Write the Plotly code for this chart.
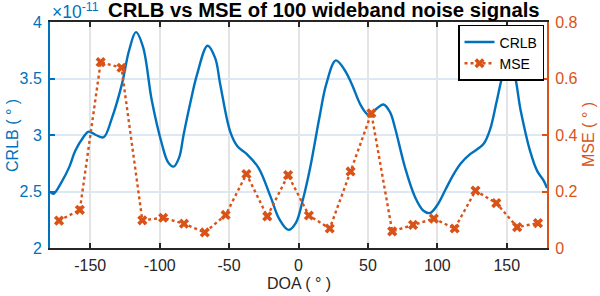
import plotly.graph_objects as go

# CRLB curve (units of 1e-11)
crlb_doa = [-179, -176.5, -170.4, -165, -160.8, -155, -151.2, -146, -140.4, -134.4,
            -127.2, -122, -117.1, -112, -105.6, -98.4, -94, -90, -86, -82.8,
            -78, -73.2, -65.5, -60, -56.4, -49.2, -44, -37.2, -28.8, -20,
            -14, -7.2, -2, 3, 8.4, 15, 20, 26.9, 33, 38.4,
            45, 50.4, 55, 61.2, 66, 69.6, 76.8, 84, 90, 94.8,
            100, 106, 111.6, 117, 123.6, 133.2, 138, 142.8, 147, 151.2,
            155, 160, 166.8, 172, 176.4, 179]
crlb_val = [2.50, 2.48, 2.59, 2.72, 2.86, 2.98, 3.03, 3.00, 2.98, 3.15,
            3.45, 3.75, 3.91, 3.78, 3.30, 2.92, 2.76, 2.72, 2.80, 3.00,
            3.28, 3.53, 3.79, 3.68, 3.45, 3.03, 2.90, 2.83, 2.71, 2.45,
            2.26, 2.16, 2.22, 2.42, 2.71, 3.15, 3.45, 3.66, 3.58, 3.45,
            3.26, 3.18, 3.22, 3.27, 3.20, 3.06, 2.71, 2.45, 2.33, 2.31,
            2.38, 2.52, 2.65, 2.75, 2.83, 2.92, 3.05, 3.30, 3.52, 3.63,
            3.56, 3.22, 2.86, 2.68, 2.60, 2.53]

# MSE points
mse_doa = [-172.5, -157.5, -142.5, -127.5, -112.5, -97.5, -82.5, -67.5, -52.5, -37.5,
           -22.5, -7.5, 7.5, 22.5, 37.5, 52.5, 67.5, 82.5, 97.5, 112.5,
           127.5, 142.5, 157.5, 172.5]
mse_val = [0.097, 0.135, 0.658, 0.638, 0.098, 0.107, 0.086, 0.055, 0.117, 0.262,
           0.112, 0.258, 0.115, 0.069, 0.271, 0.477, 0.059, 0.082, 0.104, 0.069,
           0.203, 0.159, 0.074, 0.088]

x_ticks = [-150, -100, -50, 0, 50, 100, 150]
x_ticktext = ["-150", "-100", "-50", "0", "50", "100", "150"]
y1_ticks = [2, 2.5, 3, 3.5, 4]
y1_ticktext = ["2", "2.5", "3", "3.5", "4"]
y2_ticks = [0, 0.2, 0.4, 0.6, 0.8]
y2_ticktext = ["0", "0.2", "0.4", "0.6", "0.8"]

BLUE = "#0072BD"
ORANGE = "#D95319"
DARK = "#262626"
FONT = "Liberation Sans"

fig = go.Figure()
fig.add_trace(go.Scatter(
    x=crlb_doa, y=crlb_val, name="CRLB", mode="lines",
    line=dict(color=BLUE, width=2.4, shape="spline", smoothing=1.0),
    yaxis="y"))
fig.add_trace(go.Scatter(
    x=mse_doa, y=mse_val, name="MSE", mode="lines+markers",
    line=dict(color=ORANGE, width=2.4, dash="dot"),
    marker=dict(symbol="x", size=9, color=ORANGE, line=dict(width=0)),
    yaxis="y2"))

fig.update_layout(
    width=600, height=296,
    margin=dict(l=50, r=53, t=22, b=48, autoexpand=False),
    paper_bgcolor="white", plot_bgcolor="white",
    font=dict(family=FONT, size=16, color=DARK),
    xaxis=dict(range=[-179, 179], tickvals=x_ticks, ticktext=x_ticktext,
               ticks="inside", ticklen=5, tickwidth=2, tickcolor=DARK,
               showline=True, linecolor=DARK, linewidth=2, mirror="ticks",
               showgrid=True, gridcolor="#e4e4e4", gridwidth=2, zeroline=False,
               tickfont=dict(size=16, color=DARK), automargin=False,
               ticklabelstandoff=2),
    yaxis=dict(range=[2, 4], tickvals=y1_ticks, ticktext=y1_ticktext,
               ticks="inside", ticklen=5, tickwidth=2, tickcolor=BLUE,
               showline=True, linecolor=BLUE, linewidth=2,
               showgrid=True, gridcolor="#dce9f5", gridwidth=2, zeroline=False,
               tickfont=dict(size=16, color=BLUE), automargin=False,
               ticklabelstandoff=3),
    yaxis2=dict(range=[0, 0.8], tickvals=y2_ticks, ticktext=y2_ticktext,
                overlaying="y", side="right",
                ticks="inside", ticklen=5, tickwidth=2, tickcolor=ORANGE,
                showline=True, linecolor=ORANGE, linewidth=2,
                showgrid=False, zeroline=False,
                tickfont=dict(size=16, color=ORANGE), automargin=False,
                ticklabelstandoff=3),
    legend=dict(x=0.994, y=0.987, xanchor="right", yanchor="top",
                bgcolor="white", bordercolor="black", borderwidth=1.5,
                font=dict(size=14, color="black"), itemwidth=30,
                tracegroupgap=0),
    showlegend=True,
)

# title (shifted right like MATLAB does to clear the exponent label)
fig.add_annotation(text="<b>CRLB vs MSE of 100 wideband noise signals</b>",
                   xref="paper", yref="paper", x=0.552, y=1.053,
                   xanchor="center", yanchor="middle", showarrow=False,
                   font=dict(family=FONT, size=20.3, color="black"))
# exponent label
fig.add_annotation(text="×10<sup>-11</sup>", xref="paper", yref="paper",
                   x=0.0, y=1.05, xanchor="left", yanchor="middle",
                   showarrow=False, font=dict(family=FONT, size=17.5, color=BLUE))
# axis titles
fig.add_annotation(text="DOA ( ° )", xref="paper", yref="paper",
                   x=0.5, y=-0.155, xanchor="center", yanchor="middle",
                   showarrow=False, font=dict(family=FONT, size=16, color=DARK))
fig.add_annotation(text="CRLB ( ° )", xref="paper", yref="paper",
                   x=-0.0765, y=0.5, xanchor="center", yanchor="middle",
                   textangle=-90, showarrow=False,
                   font=dict(family=FONT, size=16, color=BLUE))
fig.add_annotation(text="MSE ( ° )", xref="paper", yref="paper",
                   x=1.0825, y=0.5, xanchor="center", yanchor="middle",
                   textangle=-90, showarrow=False,
                   font=dict(family=FONT, size=16, color=ORANGE))

fig.write_html("out.html",
               config={"displayModeBar": False},
               post_script="document.body.style.margin='0px';")
